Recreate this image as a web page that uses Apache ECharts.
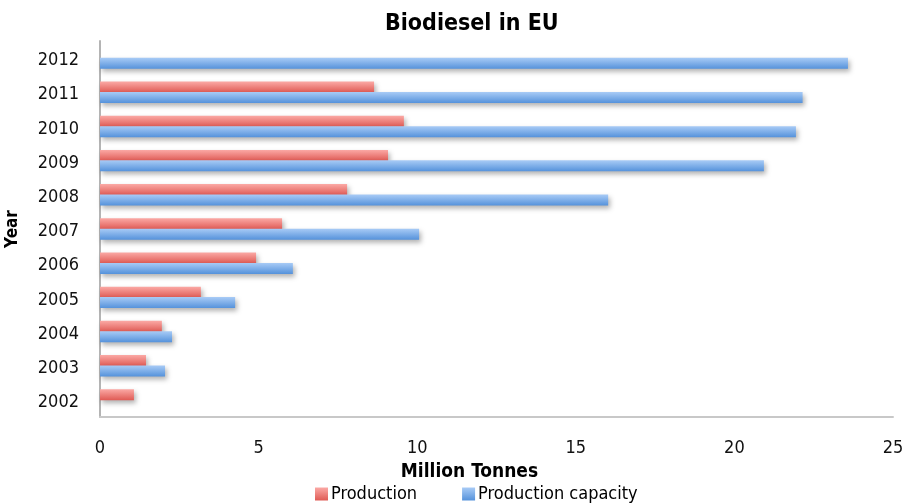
<!DOCTYPE html>
<html>
<head>
<meta charset="utf-8">
<script src="https://cdn.jsdelivr.net/npm/echarts@6/dist/echarts.min.js"></script>
<style>
  html, body { margin: 0; padding: 0; background: #fff; }
  #chart { width: 906px; height: 504px; }
</style>
</head>
<body>
<div id="chart"></div>
<script>
// EU biodiesel, million tonnes per year
const years = ['2002', '2003', '2004', '2005', '2006', '2007', '2008', '2009', '2010', '2011', '2012'];
const production = [1.07, 1.45, 1.95, 3.18, 4.92, 5.74, 7.79, 9.08, 9.58, 8.64, null];
const capacity = [null, 2.05, 2.27, 4.26, 6.08, 10.06, 16.02, 20.93, 21.94, 22.15, 23.58];
const xTicks = [0, 5, 10, 15, 20, 25];

const FONT = '"DejaVu Sans Condensed", "Liberation Sans", sans-serif';

function barFill(top, bottom) {
  return new echarts.graphic.LinearGradient(0, 0, 0, 1, [
    { offset: 0, color: top },
    { offset: 1, color: bottom }
  ]);
}

const chart = echarts.init(document.getElementById('chart'), null, { renderer: 'canvas' });

chart.setOption({
  animation: false,
  backgroundColor: '#ffffff',
  title: {
    text: 'Biodiesel in EU',
    left: 385,
    top: 13,
    padding: 0,
    textStyle: { fontFamily: FONT, fontSize: 23, fontWeight: 'bold', color: '#000' }
  },
  legend: {
    bottom: 1,
    left: 315,
    padding: 0,
    itemWidth: 13,
    itemHeight: 13,
    itemGap: 45,
    textStyle: { fontFamily: FONT, fontSize: 18, color: '#000', padding: [0, 0, 0, -2] },
    data: [
      { name: 'Production', icon: 'rect', itemStyle: { color: barFill('#fba9a5', '#df5a54') } },
      { name: 'Production capacity', icon: 'rect', itemStyle: { color: barFill('#a8cbf6', '#5592db') } }
    ]
  },
  grid: { left: 100, right: 13, top: 41, bottom: 87, outerBoundsMode: 'none', containLabel: false },
  xAxis: {
    type: 'value',
    min: xTicks[0],
    max: xTicks[xTicks.length - 1],
    interval: 5,
    name: 'Million Tonnes',
    nameLocation: 'middle',
    nameGap: 46,
    nameTextStyle: { fontFamily: FONT, fontSize: 19, fontWeight: 'bold', color: '#000', padding: [0, 54, 0, 0] },
    axisLine: { show: true, lineStyle: { color: '#c8c8c8', width: 2 } },
    axisTick: { show: false },
    splitLine: { show: false },
    axisLabel: { fontFamily: FONT, fontSize: 18, color: '#111', margin: 22 }
  },
  yAxis: {
    type: 'category',
    data: years,
    name: 'Year',
    nameLocation: 'middle',
    nameGap: 79,
    nameRotate: 90,
    nameTextStyle: { fontFamily: FONT, fontSize: 17, fontWeight: 'bold', color: '#000' },
    axisLine: { show: true, lineStyle: { color: '#b4b4b4', width: 2 } },
    axisTick: { show: false },
    axisLabel: {
      margin: 21,
      formatter: '{y|{value}}',
      rich: {
        y: { fontFamily: FONT, fontSize: 18, color: '#111', padding: [5, 0, 0, 0] }
      }
    }
  },
  series: [
    {
      name: 'Production',
      type: 'bar',
      data: production,
      barWidth: 11,
      barGap: '-5%',
      itemStyle: {
        color: barFill('#fba9a5', '#df5a54'),
        shadowColor: 'rgba(0,0,0,0.3)',
        shadowBlur: 5,
        shadowOffsetX: 2,
        shadowOffsetY: 3
      }
    },
    {
      name: 'Production capacity',
      type: 'bar',
      data: capacity,
      barWidth: 11,
      itemStyle: {
        color: barFill('#a8cbf6', '#5592db'),
        shadowColor: 'rgba(0,0,0,0.3)',
        shadowBlur: 5,
        shadowOffsetX: 2,
        shadowOffsetY: 3
      }
    }
  ]
});
</script>
</body>
</html>
